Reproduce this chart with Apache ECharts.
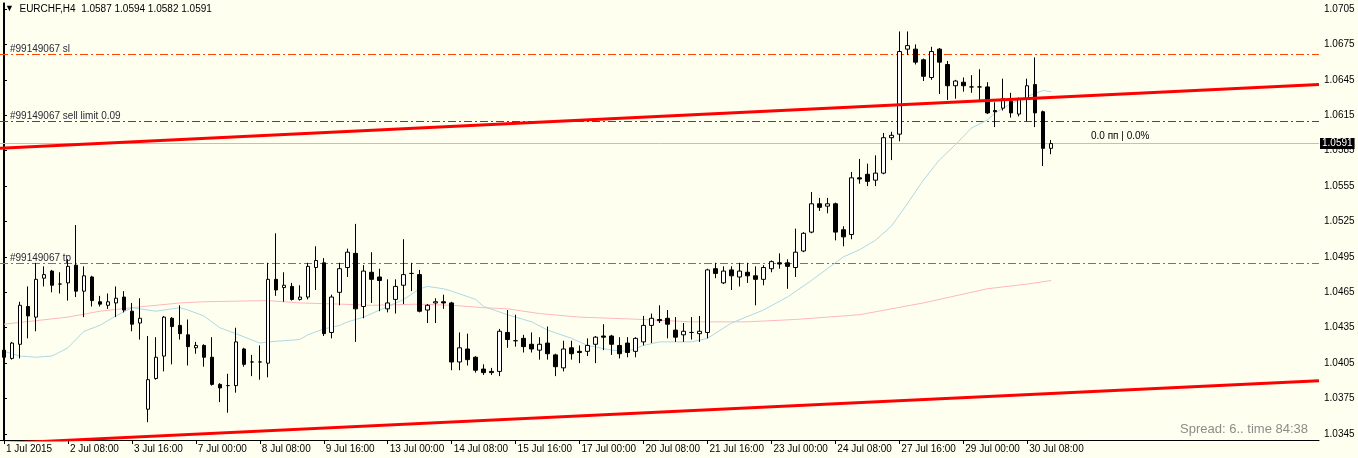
<!DOCTYPE html>
<html>
<head>
<meta charset="utf-8">
<script src="https://cdn.jsdelivr.net/npm/echarts@6/dist/echarts.min.js"></script>
<style>
html,body{margin:0;padding:0;background:#FFFFF0;overflow:hidden;}
#c{width:1358px;height:458px;}
</style>
</head>
<body>
<div id="c"></div>
<script>
// ---------- data ----------
const symbolName = 'EURCHF,H4';
const xTickLabels = ['1 Jul 2015','2 Jul 08:00','3 Jul 16:00','7 Jul 00:00','8 Jul 08:00','9 Jul 16:00','13 Jul 00:00','14 Jul 08:00','15 Jul 16:00','17 Jul 00:00','20 Jul 08:00','21 Jul 16:00','23 Jul 00:00','24 Jul 08:00','27 Jul 16:00','29 Jul 00:00','30 Jul 08:00'];
const barsPerTick = 8;
const totalSlots = 165;
const yTickValues = [1.0345,1.0375,1.0405,1.0435,1.0465,1.0495,1.0525,1.0555,1.0585,1.0615,1.0645,1.0675,1.0705];

const opens = [1.0416,1.0409,1.0421,1.0453,1.0444,1.0477,1.0483,1.0472,1.0473,1.0488,
1.0466,1.0478,1.0457,1.0454,1.0456,1.0461,1.0449,1.0439,1.0366,1.0392,
1.0411,1.0443,1.0437,1.0429,1.0418,1.0420,1.0410,1.0387,1.0386,1.0386,
1.0417,1.0406,1.0406,1.0405,1.0476,1.0469,1.0470,1.0459,1.0461,1.0486,
1.0490,1.0431,1.0465,1.0486,1.0498,1.0453,1.0482,1.0478,1.0451,1.0459,
1.0471,1.0481,1.0480,1.0450,1.0456,1.0457,1.0456,1.0406,1.0417,1.0410,
1.0400,1.0398,1.0398,1.0431,1.0424,1.0426,1.0421,1.0416,1.0422,1.0412,
1.0401,1.0418,1.0415,1.0415,1.0421,1.0428,1.0428,1.0420,1.0422,1.0415,
1.0423,1.0437,1.0442,1.0443,1.0433,1.0429,1.0431,1.0430,1.0431,1.0485,
1.0473,1.0484,1.0478,1.0482,1.0479,1.0476,1.0485,1.0490,1.0490,1.0486,
1.0500,1.0516,1.0540,1.0538,1.0540,1.0518,1.0514,1.0562,1.0565,1.0560,
1.0566,1.0596,1.0599,1.0671,1.0671,1.0662,1.0647,1.0671,1.0658,1.0640,
1.0643,1.0639,1.0639,1.0639,1.0619,1.0621,1.0627,1.0616,1.0629,1.0641,
1.0618,1.0587];
const closes = [1.0410,1.0422,1.0454,1.0445,1.0476,1.0480,1.0471,1.0472,1.0487,1.0466,
1.0479,1.0458,1.0455,1.0457,1.0460,1.0450,1.0438,1.0443,1.0391,1.0410,
1.0444,1.0436,1.0430,1.0419,1.0420,1.0410,1.0387,1.0384,1.0386,1.0423,
1.0404,1.0406,1.0406,1.0476,1.0467,1.0471,1.0459,1.0461,1.0487,1.0492,
1.0430,1.0461,1.0485,1.0499,1.0451,1.0483,1.0476,1.0475,1.0456,1.0470,
1.0480,1.0481,1.0449,1.0454,1.0457,1.0456,1.0406,1.0418,1.0408,1.0399,
1.0397,1.0397,1.0432,1.0425,1.0424,1.0419,1.0417,1.0421,1.0413,1.0402,
1.0417,1.0413,1.0414,1.0420,1.0427,1.0427,1.0421,1.0413,1.0414,1.0426,
1.0437,1.0443,1.0441,1.0438,1.0427,1.0432,1.0431,1.0432,1.0484,1.0481,
1.0483,1.0479,1.0483,1.0479,1.0476,1.0486,1.0491,1.0489,1.0487,1.0499,
1.0515,1.0540,1.0537,1.0540,1.0516,1.0512,1.0562,1.0561,1.0559,1.0566,
1.0596,1.0598,1.0669,1.0674,1.0660,1.0648,1.0669,1.0660,1.0640,1.0644,
1.0640,1.0639,1.0639,1.0617,1.0618,1.0629,1.0617,1.0629,1.0640,1.0617,
1.0587,1.0591];
const lows = [1.0402,1.0408,1.0409,1.0426,1.0432,1.0470,1.0465,1.0464,1.0458,1.0461,
1.0444,1.0453,1.0453,1.0451,1.0444,1.0448,1.0432,1.0425,1.0355,1.0391,
1.0398,1.0404,1.0425,1.0403,1.0413,1.0402,1.0386,1.0372,1.0363,1.0380,
1.0402,1.0394,1.0391,1.0393,1.0462,1.0457,1.0458,1.0458,1.0459,1.0467,
1.0428,1.0426,1.0454,1.0478,1.0423,1.0443,1.0456,1.0449,1.0448,1.0447,
1.0455,1.0466,1.0448,1.0439,1.0439,1.0451,1.0399,1.0399,1.0403,1.0397,
1.0395,1.0395,1.0394,1.0418,1.0419,1.0414,1.0414,1.0408,1.0408,1.0394,
1.0398,1.0408,1.0405,1.0411,1.0405,1.0416,1.0412,1.0409,1.0410,1.0410,
1.0420,1.0422,1.0439,1.0426,1.0423,1.0423,1.0425,1.0423,1.0426,1.0477,
1.0472,1.0467,1.0470,1.0473,1.0454,1.0471,1.0482,1.0485,1.0468,1.0478,
1.0499,1.0515,1.0534,1.0532,1.0509,1.0504,1.0510,1.0557,1.0555,1.0555,
1.0565,1.0577,1.0593,1.0666,1.0658,1.0644,1.0645,1.0633,1.0628,1.0629,
1.0635,1.0634,1.0627,1.0616,1.0605,1.0619,1.0613,1.0614,1.0610,1.0605,
1.0572,1.0582];
const highs = [1.0427,1.0423,1.0457,1.0470,1.0490,1.0487,1.0484,1.0482,1.0493,1.0522,
1.0487,1.0479,1.0462,1.0464,1.0470,1.0466,1.0456,1.0460,1.0428,1.0427,
1.0445,1.0444,1.0454,1.0442,1.0423,1.0421,1.0427,1.0388,1.0396,1.0435,
1.0418,1.0412,1.0420,1.0490,1.0515,1.0482,1.0473,1.0471,1.0490,1.0504,
1.0494,1.0463,1.0490,1.0502,1.0523,1.0488,1.0499,1.0485,1.0476,1.0476,
1.0510,1.0490,1.0484,1.0455,1.0460,1.0463,1.0457,1.0431,1.0430,1.0411,
1.0404,1.0401,1.0434,1.0450,1.0446,1.0429,1.0431,1.0427,1.0436,1.0413,
1.0424,1.0424,1.0420,1.0426,1.0428,1.0438,1.0429,1.0427,1.0427,1.0427,
1.0445,1.0447,1.0454,1.0450,1.0444,1.0439,1.0444,1.0445,1.0485,1.0490,
1.0487,1.0487,1.0490,1.0490,1.0487,1.0488,1.0492,1.0498,1.0493,1.0519,
1.0516,1.0550,1.0545,1.0545,1.0541,1.0521,1.0567,1.0578,1.0574,1.0581,
1.0600,1.0601,1.0686,1.0686,1.0675,1.0663,1.0673,1.0672,1.0661,1.0645,
1.0647,1.0649,1.0654,1.0643,1.0626,1.0646,1.0634,1.0630,1.0646,1.0664,
1.0619,1.0594];

// moving averages: [bar index, price]
const maFast = [[0,1.0415],[2,1.0411],[4,1.0410],[6,1.0411],[8,1.0418],[10,1.0432],[12,1.0437],[14,1.0445],[16,1.0452],[19,1.0449],[22,1.0452],[23,1.0450],[25,1.0445],[27,1.0435],[29,1.0430],[32,1.0422],[33,1.0423],[37,1.0425],[38,1.0429],[40,1.0434],[42,1.0437],[43,1.0440],[45,1.0444],[47,1.0450],[50,1.0459],[52,1.0468],[53,1.0470],[55,1.0468],[56,1.0466],[59,1.0459],[60,1.0453],[63,1.0446],[65,1.0442],[66,1.0440],[68,1.0433],[71,1.0426],[73,1.0420],[76,1.0416],[78,1.0415],[80,1.0420],[82,1.0423],[86,1.0423],[88,1.0426],[91,1.0439],[95,1.0450],[98,1.0461],[101,1.0475],[103,1.0485],[105,1.0495],[107,1.0501],[109,1.0509],[111,1.0521],[113,1.0540],[115,1.0560],[117,1.0577],[119,1.0590],[121,1.0604],[123,1.0611],[124,1.0617],[126,1.0625],[128,1.0631],[130,1.0636],[131,1.0635]];
const maSlow = [[0,1.0438],[4,1.0441],[8,1.0444],[12,1.0449],[16,1.0452],[22,1.0456],[25,1.0457],[33,1.0458],[37,1.0456],[42,1.0455],[46,1.0454],[52,1.0455],[56,1.0454],[60,1.0452],[63,1.0451],[67,1.0447],[72,1.0444],[76,1.0443],[80,1.0442],[86,1.0440],[93,1.0440],[99,1.0442],[107,1.0446],[111,1.0451],[115,1.0456],[119,1.0462],[123,1.0468],[128,1.0472],[131,1.0475]];

// trend channel lines: [bar index, price]
const upperChannel = [[-0.5,1.0587],[164.5,1.0641]];
const lowerChannel = [[-0.5,1.0337],[164.5,1.0390]];

// order levels
const orderLabels = ['#99149067 sl','#99149067 sell limit 0.09','#99149067 tp'];
const orderPrices = [1.0667,1.0610,1.0490];
const currentPrice = 1.0591;
const infoText = '0.0 пп | 0.0%';
const spreadText = 'Spread: 6.. time 84:38';

// ---------- chart ----------
const FONT = '"Liberation Sans", Arial, sans-serif';
const categories = [];
for (let i = 0; i < totalSlots; i++) {
  const t = i / barsPerTick;
  categories.push(i % barsPerTick === 0 && t < xTickLabels.length ? xTickLabels[t] : '');
}
const candles = opens.map((o, i) => [o, closes[i], lows[i], highs[i]]);
const last = candles.length - 1;
const titleText = symbolName + '  ' + [opens[last], highs[last], lows[last], closes[last]].map(v => v.toFixed(4)).join(' ');

const yMin = 1.03399, yMax = 1.07101;
const orderColors = ['#FF4500', '#008000', '#FF4500'];

const markData = orderPrices.map((p, i) => ({
  yAxis: p,
  lineStyle: { color: orderColors[i], type: [8, 3, 2, 3], width: 1 },
  label: {
    show: true, position: 'insideStartTop', formatter: orderLabels[i],
    color: '#2a2a35', fontSize: 10, fontFamily: FONT, distance: [10, 0]
  }
}));
markData.push({
  yAxis: currentPrice,
  lineStyle: { color: '#C0C0C0', type: 'solid', width: 1 },
  label: {
    show: true, position: 'end', formatter: currentPrice.toFixed(4),
    color: '#fff', backgroundColor: '#000', padding: [1, 2, 0, 2],
    fontSize: 10, fontFamily: FONT, distance: 1
  }
});

const chart = echarts.init(document.getElementById('c'), null, { renderer: 'canvas' });
chart.setOption({
  animation: false,
  backgroundColor: '#FFFFF0',
  textStyle: { fontFamily: FONT },
  title: {
    text: '{t|▼}  ' + titleText,
    left: 5, top: 4, padding: 0,
    textStyle: {
      fontSize: 10, color: '#000', fontWeight: 'normal', fontFamily: FONT,
      rich: { t: { fontSize: 9, color: '#000' } }
    }
  },
  grid: { left: -1, right: 39, top: 3, bottom: 18, containLabel: false },
  xAxis: [{
    type: 'category', data: categories, boundaryGap: true,
    axisLine: { show: true, lineStyle: { color: '#000', width: 1 } },
    axisTick: { show: true, alignWithLabel: true, length: 4, lineStyle: { color: '#000' },
      interval: (idx, val) => val !== '' },
    axisLabel: { show: true, interval: (idx, val) => val !== '', align: 'left',
      color: '#000', fontSize: 10, fontFamily: FONT, margin: 4, padding: [0, 0, 0, 2] },
    splitLine: { show: false }
  }, {
    type: 'value', min: -0.5, max: totalSlots - 0.5, show: false
  }],
  yAxis: [{
    type: 'value', position: 'right', min: yMin, max: yMax, scale: true,
    axisLine: { show: true, lineStyle: { color: '#000', width: 1 } },
    axisTick: { show: true, length: 3, customValues: yTickValues, lineStyle: { color: '#000' } },
    axisLabel: { show: true, customValues: yTickValues, formatter: v => v.toFixed(4),
      color: '#000', fontSize: 10, fontFamily: FONT, margin: 5 },
    splitLine: { show: false }
  }, {
    type: 'value', position: 'left', min: yMin, max: yMax, offset: -3,
    axisLine: { show: true, lineStyle: { color: '#000', width: 1 } },
    axisTick: { show: false }, axisLabel: { show: false }, splitLine: { show: false }
  }],
  series: [{
    name: 'MA slow', type: 'line', data: maSlow, xAxisIndex: 0, yAxisIndex: 0,
    showSymbol: false, symbol: 'none', lineStyle: { color: '#FFB6C1', width: 1 }, z: 1, silent: true
  }, {
    name: 'MA fast', type: 'line', data: maFast, xAxisIndex: 0, yAxisIndex: 0,
    showSymbol: false, symbol: 'none', lineStyle: { color: '#ADD8E6', width: 1 }, z: 1, silent: true
  }, {
    name: 'Upper channel', type: 'line', data: upperChannel, xAxisIndex: 1, yAxisIndex: 0,
    showSymbol: false, symbol: 'none', clip: true, lineStyle: { color: '#FF0000', width: 3 }, z: 3, silent: true
  }, {
    name: 'Lower channel', type: 'line', data: lowerChannel, xAxisIndex: 1, yAxisIndex: 0,
    showSymbol: false, symbol: 'none', clip: true, lineStyle: { color: '#FF0000', width: 3 }, z: 3, silent: true
  }, {
    name: symbolName, type: 'candlestick', data: candles, xAxisIndex: 0, yAxisIndex: 0,
    barWidth: 4, z: 2,
    itemStyle: { color: '#FFFFFF', color0: '#000000', borderColor: '#000000', borderColor0: '#000000', borderWidth: 1 },
    markLine: { symbol: ['none', 'none'], silent: true, animation: false, precision: 4, data: markData, z: 1 }
  }],
  graphic: [{
    type: 'text', left: 1091, top: 131,
    style: { text: infoText, fill: '#000', font: '10px ' + FONT }
  }, {
    type: 'text', right: 50, top: 423,
    style: { text: spreadText, fill: '#8c8c8c', font: '13px ' + FONT }
  }]
});
</script>
</body>
</html>
